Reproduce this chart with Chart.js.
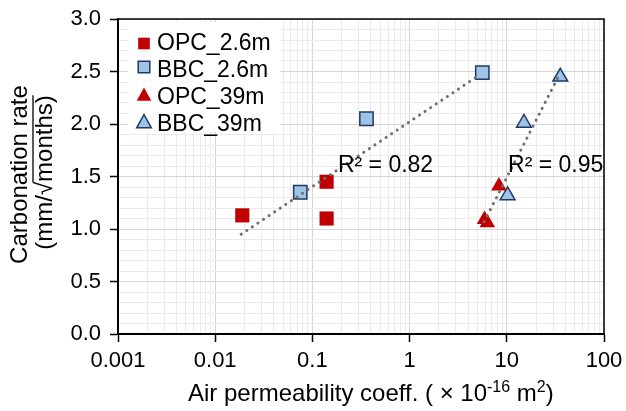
<!DOCTYPE html>
<html>
<head>
<meta charset="utf-8">
<script src="https://cdn.jsdelivr.net/npm/chart.js@4.4.0/dist/chart.umd.min.js"></script>
<style>
  html, body { margin: 0; padding: 0; background: #fff; }
</style>
</head>
<body>
<canvas id="myChart" width="626" height="411"></canvas>
<script>
// values
const seriesNames = ['OPC_2.6m', 'BBC_2.6m', 'OPC_39m', 'BBC_39m'];
const opc26X = [0.019, 0.14, 0.14];
const opc26Y = [1.13, 1.45, 1.10];
const bbc26X = [0.075, 0.36, 5.6];
const bbc26Y = [1.35, 2.05, 2.49];
const opc39X = [5.9, 6.3, 8.3];
const opc39Y = [1.09, 1.06, 1.41];
const bbc39X = [10.2, 15, 35.5];
const bbc39Y = [1.32, 2.01, 2.45];
const trend26X = [0.0185, 5.3];
const trend26Y = [0.95, 2.47];
const trend39X = [5.85, 35.2];
const trend39Y = [1.07, 2.48];
const r2Labels = ['R² = 0.82', 'R² = 0.95'];
const xTickLabels = ['0.001', '0.01', '0.1', '1', '10', '100'];
const yTickLabels = ['0.0', '0.5', '1.0', '1.5', '2.0', '2.5', '3.0'];

const FONT = '"Liberation Sans", Arial, sans-serif';
const RED = '#c00000';
const LIGHT = '#9dc3e6';
const NAVY = '#1f3864';

function pts(xs, ys) {
    return xs.map((x, i) => ({x: x, y: ys[i]}));
}

function isDecade(v) {
    const l = Math.log10(v);
    return Math.abs(l - Math.round(l)) < 1e-9;
}

function isHalf(v) {
    return Math.round(v * 10) % 5 === 0;
}

const markerStyles = [
    {pointStyle: 'rect', fill: RED, stroke: RED, bw: 0},
    {pointStyle: 'rect', fill: LIGHT, stroke: NAVY, bw: 1.5},
    {pointStyle: 'triangle', fill: RED, stroke: RED, bw: 0},
    {pointStyle: 'triangle', fill: LIGHT, stroke: NAVY, bw: 1.5}
];

// drawn over the grid, under the markers
const framePlugin = {
    id: 'frame',
    beforeDatasetsDraw(chart) {
        const {ctx, chartArea: a} = chart;
        ctx.save();
        ctx.strokeStyle = '#000';
        ctx.lineWidth = 1.5;
        ctx.beginPath();
        ctx.moveTo(a.left, a.top);
        ctx.lineTo(a.right, a.top);
        ctx.lineTo(a.right, a.bottom);
        ctx.stroke();

        // legend box inside the plot
        ctx.fillStyle = '#fff';
        ctx.fillRect(128, 22, 152, 110);
        ctx.font = '23px ' + FONT;
        ctx.fillStyle = '#000';
        ctx.textBaseline = 'alphabetic';
        const markY = [43.5, 67, 94.5, 121.5];
        seriesNames.forEach((name, i) => {
            const m = markerStyles[i];
            const cx = 144, cy = markY[i];
            ctx.fillStyle = m.fill;
            ctx.strokeStyle = m.stroke;
            ctx.lineWidth = m.bw;
            ctx.beginPath();
            if (m.pointStyle === 'rect') {
                ctx.rect(cx - 5.8, cy - 5.8, 11.6, 11.6);
            } else {
                ctx.moveTo(cx, cy - 7);
                ctx.lineTo(cx + 7.3, cy + 6.3);
                ctx.lineTo(cx - 7.3, cy + 6.3);
                ctx.closePath();
            }
            ctx.fill();
            if (m.bw) ctx.stroke();
            ctx.fillStyle = '#000';
            ctx.fillText(name, 157, 49.5 + 27 * i);
        });
        ctx.restore();
    },
    afterDraw(chart) {
        const {ctx, chartArea: a} = chart;
        const xs = chart.scales.x, ys = chart.scales.y;
        ctx.save();
        ctx.fillStyle = '#000';
        ctx.font = '23px ' + FONT;
        ctx.textBaseline = 'middle';
        ctx.textAlign = 'left';
        ctx.fillText(r2Labels[0], xs.getPixelForValue(0.183), ys.getPixelForValue(1.6));
        ctx.fillText(r2Labels[1], xs.getPixelForValue(10.3), ys.getPixelForValue(1.6));

        // y axis title, rotated, with the root bar over "months)"
        const midY = (a.top + a.bottom) / 2;
        ctx.font = '24px ' + FONT;
        ctx.textBaseline = 'alphabetic';
        ctx.textAlign = 'center';
        ctx.save();
        ctx.translate(27, midY - 2);
        ctx.rotate(-Math.PI / 2);
        ctx.fillText('Carbonation rate', 0, 0);
        ctx.restore();

        ctx.save();
        ctx.translate(52, midY - 4);
        ctx.rotate(-Math.PI / 2);
        const line2 = '(mm/√months)';
        const w = ctx.measureText(line2).width;
        ctx.fillText(line2, 0, 0);
        const pre = ctx.measureText('(mm/√').width;
        ctx.lineWidth = 1.3;
        ctx.strokeStyle = '#000';
        ctx.beginPath();
        ctx.moveTo(-w / 2 + pre - 0.5, -19);
        ctx.lineTo(w / 2, -19);
        ctx.stroke();
        ctx.restore();

        // x axis title with superscripts
        const parts = [
            ['Air permeability coeff. ( × 10', 24, 0],
            ['-16', 16, -9],
            [' m', 24, 0],
            ['2', 16, -9],
            [')', 24, 0]
        ];
        let x = 188;
        ctx.textAlign = 'left';
        parts.forEach(p => {
            ctx.font = p[1] + 'px ' + FONT;
            ctx.fillText(p[0], x, 401 + p[2]);
            x += ctx.measureText(p[0]).width;
        });
        ctx.restore();
    }
};

const ctx = document.getElementById('myChart');
new Chart(ctx,
{
    type: 'scatter',
    data:
    {
        datasets:
        [
            {
                label: 'trend 2.6m',
                data: pts(trend26X, trend26Y),
                showLine: true,
                pointRadius: 0,
                borderColor: '#6f6f6f',
                borderWidth: 3,
                borderDash: [0.1, 6.6],
                borderCapStyle: 'round'
            },
            {
                label: 'trend 39m',
                data: pts(trend39X, trend39Y),
                showLine: true,
                pointRadius: 0,
                borderColor: '#6f6f6f',
                borderWidth: 3,
                borderDash: [0.1, 6.6],
                borderCapStyle: 'round'
            },
            {
                label: seriesNames[0],
                data: pts(opc26X, opc26Y),
                pointStyle: 'rect',
                pointRadius: 10,
                backgroundColor: RED,
                borderColor: RED,
                borderWidth: 0
            },
            {
                label: seriesNames[1],
                data: pts(bbc26X, bbc26Y),
                pointStyle: 'rect',
                pointRadius: 9.4,
                backgroundColor: LIGHT,
                borderColor: NAVY,
                borderWidth: 1.5
            },
            {
                label: seriesNames[2],
                data: pts(opc39X, opc39Y),
                pointStyle: 'triangle',
                pointRadius: 9,
                backgroundColor: RED,
                borderColor: RED,
                borderWidth: 0
            },
            {
                label: seriesNames[3],
                data: pts(bbc39X, bbc39Y),
                pointStyle: 'triangle',
                pointRadius: 8.5,
                backgroundColor: LIGHT,
                borderColor: NAVY,
                borderWidth: 1.5
            }
        ]
    },
    options:
    {
        responsive: false,
        devicePixelRatio: 1,
        animation: false,
        events: [],
        layout: {padding: {left: 0, right: 22, top: 19, bottom: 0}},
        plugins: {legend: {display: false}, tooltip: {enabled: false}},
        scales:
        {
            x:
            {
                type: 'logarithmic',
                min: 0.001,
                max: 100,
                afterBuildTicks: (s) =>
                {
                    const t = [];
                    for (let e = -3; e < 2; e++)
                        for (let k = 1; k < 10; k++)
                            t.push({value: parseFloat((k * Math.pow(10, e)).toPrecision(6))});
                    t.push({value: 100});
                    s.ticks = t;
                },
                afterFit: (s) => { s.height = 77; s.paddingRight = 0; s.paddingLeft = 0; },
                ticks:
                {
                    autoSkip: false,
                    maxRotation: 0,
                    padding: 6,
                    color: '#000',
                    font: {family: FONT, size: 22},
                    callback: (v) => isDecade(v) ? xTickLabels[Math.round(Math.log10(v)) + 3] : ''
                },
                grid:
                {
                    color: (c) => c.tick && isDecade(c.tick.value) ? '#d6d6d6' : '#ebebeb',
                    tickColor: (c) => c.tick && isDecade(c.tick.value) ? '#000' : 'rgba(0,0,0,0)',
                    tickLength: 8,
                    tickWidth: 1.5,
                    lineWidth: 1
                },
                border: {display: true, color: '#000', width: 2}
            },
            y:
            {
                min: 0,
                max: 3,
                afterFit: (s) => { s.width = 118; s.paddingTop = 0; s.paddingBottom = 0; },
                ticks:
                {
                    stepSize: 0.1,
                    autoSkip: false,
                    padding: 9,
                    color: '#000',
                    font: {family: FONT, size: 22},
                    callback: (v) => isHalf(v) ? yTickLabels[Math.round(v * 2)] : ''
                },
                grid:
                {
                    color: (c) => c.tick && isHalf(c.tick.value) ? '#d6d6d6' : '#ebebeb',
                    tickColor: (c) => c.tick && isHalf(c.tick.value) ? '#000' : 'rgba(0,0,0,0)',
                    tickLength: 8,
                    tickWidth: 1.5,
                    lineWidth: 1
                },
                border: {display: true, color: '#000', width: 2}
            }
        }
    },
    plugins: [framePlugin]
});
</script>
</body>
</html>
